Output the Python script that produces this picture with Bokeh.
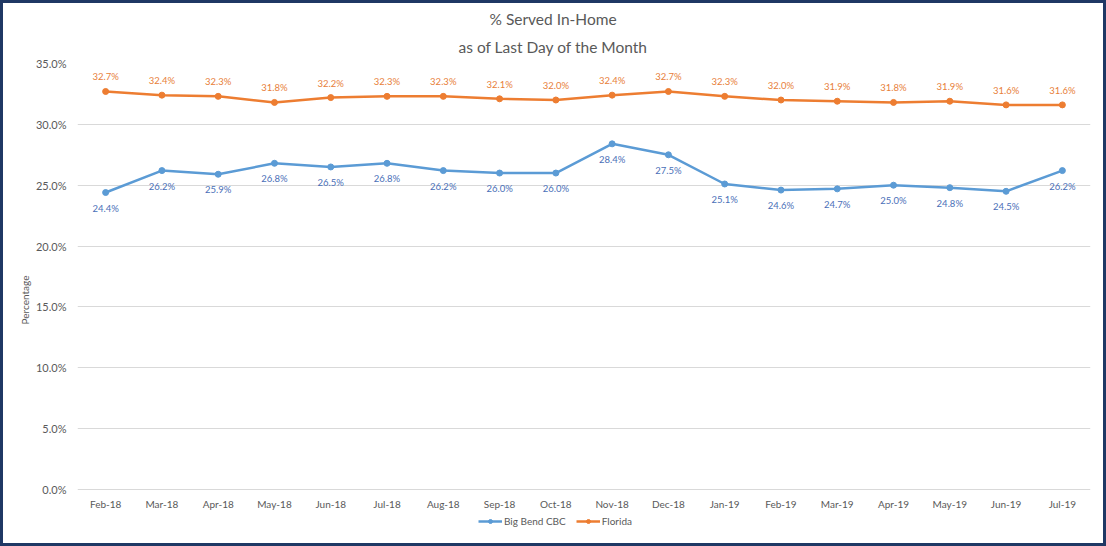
from bokeh.plotting import figure
from bokeh.models import FactorRange, Range1d, PrintfTickFormatter, Legend, LegendItem, ColumnDataSource, LabelSet, Title
from bokeh.core.properties import value
from bokeh.embed import file_html
from bokeh.resources import INLINE

months = ["Feb-18", "Mar-18", "Apr-18", "May-18", "Jun-18", "Jul-18", "Aug-18", "Sep-18", "Oct-18",
          "Nov-18", "Dec-18", "Jan-19", "Feb-19", "Mar-19", "Apr-19", "May-19", "Jun-19", "Jul-19"]
big_bend = [24.4, 26.2, 25.9, 26.8, 26.5, 26.8, 26.2, 26.0, 26.0, 28.4, 27.5, 25.1, 24.6, 24.7, 25.0, 24.8, 24.5, 26.2]
florida = [32.7, 32.4, 32.3, 31.8, 32.2, 32.3, 32.3, 32.1, 32.0, 32.4, 32.7, 32.3, 32.0, 31.9, 31.8, 31.9, 31.6, 31.6]
y_ticks = [0, 5, 10, 15, 20, 25, 30, 35]
title_lines = ["% Served In-Home", "as of Last Day of the Month"]

FONT = "Lato"
GRAY = "#595959"
BLUE = "#5B9BD5"
ORANGE = "#ED7D31"

src = ColumnDataSource(dict(
    m=months, bb=big_bend, fl=florida,
    base=[y_ticks[0]] * len(months),
    bbl=[f"{v:.1f}%" for v in big_bend],
    fll=[f"{v:.1f}%" for v in florida],
))

W, H = 1100, 540
ML, MT = 74, 60
FW = 1013
PLOT_H = 426            # pixels for 0..35 %
MB = 7
FH = H - MT - MB        # frame extends below 0 to hold month labels and legend
y_max = y_ticks[-1]
y_min = -y_max * (FH - PLOT_H) / PLOT_H

p = figure(width=W, height=H, x_range=FactorRange(*months, range_padding=0),
           y_range=Range1d(y_min, y_max), output_backend="svg", toolbar_location=None,
           x_axis_location=None,
           min_border_left=ML, min_border_right=W - ML - FW, min_border_top=MT,
           min_border_bottom=MB)

p.title.text = title_lines[0]
p.title.align = "left"
p.title.offset = 412
p.title.standoff = 0
t2 = Title(text=title_lines[1], align="left", offset=381, standoff=16)
p.add_layout(t2, "above")
for t in (p.title, t2):
    t.text_font = FONT
    t.text_font_size = "15.5px"
    t.text_font_style = "normal"
    t.text_color = GRAY

p.outline_line_color = None

p.xgrid.grid_line_color = None
p.ygrid.grid_line_color = "#D9D9D9"
p.ygrid.ticker = y_ticks

p.yaxis.ticker = y_ticks
p.yaxis.formatter = PrintfTickFormatter(format="%.1f%%")
p.yaxis.axis_line_color = None
p.yaxis.major_tick_line_color = None
p.yaxis.minor_tick_line_color = None
p.yaxis.major_label_text_font = FONT
p.yaxis.major_label_text_font_size = "11px"
p.yaxis.major_label_text_color = GRAY
p.yaxis.major_label_standoff = 5
p.yaxis.axis_label = "Percentage"
p.yaxis.axis_label_text_font = FONT
p.yaxis.axis_label_text_font_size = "10px"
p.yaxis.axis_label_text_font_style = "normal"
p.yaxis.axis_label_text_color = GRAY
p.yaxis.axis_label_standoff = 2

# month labels along the 0 % line
xlab = LabelSet(x="m", y="base", text="m", source=src, y_offset=-8, text_align="center",
                text_baseline="top", text_font=value(FONT), text_font_size=value("10px"),
                text_color=GRAY)
p.add_layout(xlab)

l1 = p.line("m", "bb", source=src, line_color=BLUE, line_width=2.5)
s1 = p.scatter("m", "bb", source=src, size=6, fill_color=BLUE, line_color=BLUE)
l2 = p.line("m", "fl", source=src, line_color=ORANGE, line_width=2.5)
s2 = p.scatter("m", "fl", source=src, size=6, fill_color=ORANGE, line_color=ORANGE)

lab1 = LabelSet(x="m", y="bb", text="bbl", source=src, y_offset=-10, text_align="center",
                text_baseline="top", text_font=value(FONT), text_font_size=value("9.5px"),
                text_color="#4A6FB8")
lab2 = LabelSet(x="m", y="fl", text="fll", source=src, y_offset=9, text_align="center",
                text_baseline="bottom", text_font=value(FONT), text_font_size=value("9.5px"),
                text_color="#E8803A")
p.add_layout(lab1)
p.add_layout(lab2)

legend = Legend(items=[LegendItem(label="Big Bend CBC", renderers=[l1, s1]),
                       LegendItem(label="Florida", renderers=[l2, s2])],
                orientation="horizontal", location=(401, 9),
                label_text_font=FONT, label_text_font_size="10px", label_text_color=GRAY,
                glyph_width=24, glyph_height=10, label_standoff=2, spacing=10,
                padding=0, margin=0, border_line_color=None, background_fill_alpha=0)
p.add_layout(legend, "center")

p.styles = {"margin": "3px", "outline": "3px solid #1F3864"}

open("out.html", "w").write(file_html(p, INLINE))
